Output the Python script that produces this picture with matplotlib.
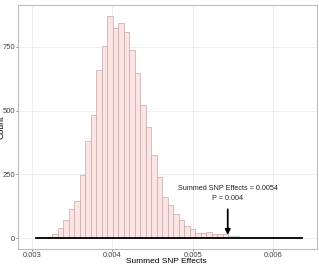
import numpy as np
import matplotlib.pyplot as plt
import matplotlib

matplotlib.rcParams.update({'font.family': 'Liberation Sans', 'font.size': 6})

# histogram of permuted summed SNP effects
bin_start = 0.003189
bin_width = 0.0000682
counts_low = [5, 15, 39, 70, 116, 146, 248, 381, 483, 657, 751, 870, 822, 841,
              806, 737, 646, 520, 437, 326, 241, 163, 130, 95, 72, 48, 38, 22,
              20, 23, 18, 16, 15]
counts_high = [10, 10, 5, 3, 2, 0, 4, 0, 3]

observed = 0.0054
arrow_x = 0.005435
p_value = 0.004
line_range = [0.00305, 0.00636]

xticks = [0.003, 0.004, 0.005, 0.006]
yticks = [0, 250, 500, 750]

fig = plt.figure(figsize=(3.19, 2.65), dpi=100)
ax = fig.add_axes([0.0574, 0.0604, 0.9354, 0.9207])

edges_low = bin_start + bin_width * np.arange(len(counts_low))
edges_high = bin_start + bin_width * (len(counts_low) + np.arange(len(counts_high)))

ax.bar(edges_low, counts_low, width=bin_width, align='edge',
       color='#fce4e3', edgecolor='#c4a9a9', linewidth=0.5, zorder=2)
ax.bar(edges_high, counts_high, width=bin_width, align='edge',
       color='#d6f0f0', edgecolor='#b8c4c4', linewidth=0.5, zorder=2)

ax.plot(line_range, [0, 0], color='black', linewidth=1.3, zorder=3)

ax.annotate('', xy=(arrow_x, 2), xytext=(arrow_x, 124),
            arrowprops=dict(arrowstyle='-|>,head_length=0.5,head_width=0.25',
                            color='black', lw=1.3), zorder=4)
ax.text(arrow_x, 196, 'Summed SNP Effects = %.4f' % observed, ha='center',
        va='center', fontsize=5.2, color='#222222')
ax.text(arrow_x, 157, 'P = %.3f' % p_value, ha='center', va='center',
        fontsize=5.2, color='#222222')

ax.set_xlim(0.002834, 0.00654)
ax.set_ylim(-42, 913)
ax.set_xticks(xticks)
ax.set_xticklabels([str(t) for t in xticks])
ax.set_yticks(yticks)

ax.grid(True, color='#ebebeb', linewidth=0.6, zorder=0)
ax.set_axisbelow(True)
for s in ax.spines.values():
    s.set_color('#bdbdbd')
    s.set_linewidth(0.8)
ax.tick_params(length=1.5, width=0.5, color='#555555', labelcolor='#444444',
               pad=0.8, labelsize=5.5)

fig.text(166 / 319, 1 - 261.5 / 265, 'Summed SNP Effects', ha='center',
         va='center', fontsize=6, color='black')
fig.text(1.5 / 319, 0.52, 'Count', rotation=90, ha='center', va='center',
         fontsize=6.3, color='black')

fig.savefig('out.png', dpi=100)
